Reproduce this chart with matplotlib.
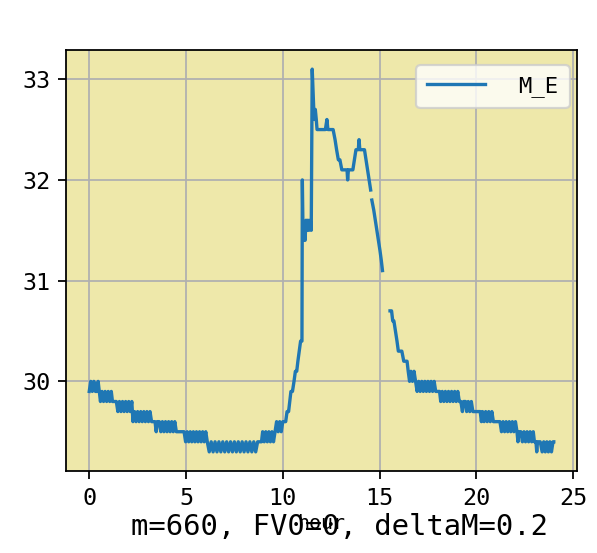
import numpy as np
import matplotlib
matplotlib.use("Agg")
import matplotlib.pyplot as plt
from matplotlib import font_manager

names = {f.name for f in font_manager.fontManager.ttflist}
fam = [n for n in ["Noto Sans Mono CJK SC", "DejaVu Sans Mono"] if n in names]
plt.rcParams['font.family'] = fam + ['DejaVu Sans']

# hour of day
hours = [
    0.00, 0.08, 0.16, 0.24, 0.32, 0.40, 0.46, 0.52,
    0.58, 0.66, 0.74, 0.82, 0.90, 0.98, 1.06, 1.14, 1.20, 1.30, 1.40,
    1.48, 1.56, 1.64, 1.72, 1.80, 1.88, 1.96, 2.04, 2.12, 2.20,
    2.26, 2.34, 2.42, 2.50, 2.58, 2.66, 2.74, 2.82, 2.90, 2.98, 3.06, 3.14, 3.22, 3.30,
    3.40, 3.46, 3.52, 3.62,
    3.70, 3.78, 3.86, 3.94, 4.02, 4.10, 4.18, 4.26, 4.34, 4.42, 4.50,
    4.60, 4.70, 4.80, 4.90,
    4.98, 5.06, 5.14, 5.22, 5.30, 5.38, 5.46, 5.54, 5.62, 5.70, 5.78, 5.86, 5.94, 6.02, 6.10,
    6.20, 6.30, 6.40, 6.50, 6.60, 6.70, 6.80, 6.90, 7.00, 7.10, 7.20, 7.30, 7.40,
    7.50, 7.60, 7.70, 7.80, 7.90, 8.00, 8.10, 8.20, 8.30, 8.40, 8.50, 8.60,
    8.70, 8.80, 8.90,
    8.96, 9.04, 9.12, 9.20, 9.28, 9.36, 9.44, 9.52, 9.60,
    9.68, 9.76, 9.84, 9.92, 10.00, 10.08,
    10.15, 10.22, 10.30, 10.36, 10.42, 10.50, 10.58, 10.65, 10.72, 10.78, 10.85, 10.92, 10.99,
    11.01, 11.05, 11.10, 11.15, 11.20, 11.25, 11.30, 11.35, 11.42, 11.47,
    11.52, 11.56, 11.60, 11.64, 11.68, 11.73, 11.77, 11.90,
    12.00, 12.10, 12.20, 12.28, 12.33, 12.45, 12.60, 12.70, 12.78, 12.87,
    12.95, 13.05, 13.13, 13.25, 13.32, 13.35, 13.39, 13.50, 13.62, 13.70,
    13.78, 13.86, 13.90, 13.94, 13.98, 14.10, 14.22, 14.30, 14.38, 14.46, 14.54,
    14.57,
    14.60, 14.70, 14.78, 14.86, 14.94, 15.02, 15.09, 15.15,
    15.30,
    15.54, 15.62, 15.68, 15.74, 15.82, 15.90, 15.97, 16.05, 16.15, 16.25,
    16.32, 16.42, 16.48, 16.55, 16.62, 16.70, 16.78, 16.86,
    16.94, 17.02, 17.10, 17.18, 17.26, 17.34, 17.42, 17.50, 17.58, 17.66, 17.74, 17.82, 17.90,
    18.00, 18.10,
    18.16, 18.24, 18.32, 18.40, 18.48, 18.56, 18.64, 18.72, 18.80, 18.88, 18.96, 19.04, 19.12,
    19.20, 19.28, 19.34, 19.44,
    19.50, 19.58, 19.66, 19.74, 19.82,
    19.90, 20.00, 20.10, 20.20, 20.26, 20.32,
    20.40, 20.48, 20.56, 20.64, 20.72, 20.80, 20.88,
    20.96, 21.10, 21.22,
    21.30, 21.38, 21.46, 21.54, 21.62, 21.70, 21.78, 21.86, 21.94, 22.02, 22.10,
    22.15, 22.20, 22.30,
    22.38, 22.46, 22.54, 22.62, 22.70, 22.78, 22.86, 22.94,
    23.00, 23.08, 23.12, 23.16, 23.30,
    23.40, 23.48, 23.56, 23.64, 23.72, 23.80, 23.88, 23.96, 24.00,
]

m_e = [
    29.9, 30.0, 29.9, 30.0, 29.9, 29.9, 30.0, 29.9,
    29.8, 29.9, 29.8, 29.9, 29.8, 29.9, 29.8, 29.9, 29.8, 29.8, 29.8,
    29.7, 29.8, 29.7, 29.8, 29.7, 29.8, 29.7, 29.8, 29.7, 29.8,
    29.6, 29.7, 29.6, 29.7, 29.6, 29.7, 29.6, 29.7, 29.6, 29.7, 29.6, 29.7, 29.6, 29.6,
    29.6, 29.5, 29.6, 29.6,
    29.5, 29.6, 29.5, 29.6, 29.5, 29.6, 29.5, 29.6, 29.5, 29.6, 29.5,
    29.5, 29.5, 29.5, 29.5,
    29.4, 29.5, 29.4, 29.5, 29.4, 29.5, 29.4, 29.5, 29.4, 29.5, 29.4, 29.5, 29.4, 29.5, 29.4,
    29.3, 29.4, 29.3, 29.4, 29.3, 29.4, 29.3, 29.4, 29.3, 29.4, 29.3, 29.4, 29.3,
    29.4, 29.3, 29.4, 29.3, 29.4, 29.3, 29.4, 29.3, 29.4, 29.3, 29.4, 29.3,
    29.4, 29.4, 29.4,
    29.5, 29.4, 29.5, 29.4, 29.5, 29.4, 29.5, 29.4, 29.5,
    29.6, 29.5, 29.6, 29.5, 29.6, 29.6,
    29.6, 29.7, 29.7, 29.8, 29.9, 29.9, 30.0, 30.1, 30.1, 30.2, 30.3, 30.4, 30.4,
    32.0, 31.4, 31.5, 31.4, 31.6, 31.5, 31.6, 31.5, 31.6, 31.5,
    33.1, 32.9, 32.7, 32.6, 32.7, 32.6, 32.5, 32.5,
    32.5, 32.5, 32.5, 32.6, 32.5, 32.5, 32.5, 32.4, 32.3, 32.2,
    32.2, 32.1, 32.1, 32.1, 32.1, 32.0, 32.1, 32.1, 32.1, 32.2,
    32.3, 32.3, 32.3, 32.4, 32.3, 32.3, 32.3, 32.2, 32.1, 32.0, 31.9,
    np.nan,
    31.8, 31.7, 31.6, 31.5, 31.4, 31.3, 31.2, 31.1,
    np.nan,
    30.7, 30.7, 30.6, 30.6, 30.5, 30.4, 30.3, 30.3, 30.3, 30.2,
    30.2, 30.2, 30.1, 30.0, 30.1, 30.0, 30.1, 30.0,
    29.9, 30.0, 29.9, 30.0, 29.9, 30.0, 29.9, 30.0, 29.9, 30.0, 29.9, 30.0, 29.9,
    29.9, 29.9,
    29.8, 29.9, 29.8, 29.9, 29.8, 29.9, 29.8, 29.9, 29.8, 29.9, 29.8, 29.9, 29.8,
    29.8, 29.7, 29.8, 29.8,
    29.7, 29.8, 29.7, 29.8, 29.7,
    29.7, 29.7, 29.7, 29.7, 29.6, 29.7,
    29.6, 29.7, 29.6, 29.7, 29.6, 29.7, 29.6,
    29.6, 29.6, 29.6,
    29.5, 29.6, 29.5, 29.6, 29.5, 29.6, 29.5, 29.6, 29.5, 29.6, 29.5,
    29.4, 29.5, 29.5,
    29.4, 29.5, 29.4, 29.5, 29.4, 29.5, 29.4, 29.5,
    29.4, 29.4, 29.3, 29.4, 29.4,
    29.3, 29.4, 29.3, 29.4, 29.3, 29.4, 29.3, 29.4, 29.4,
]

series_label = "M_E"
note = "m=660, FV0=0, deltaM=0.2"

dpi = 160
fig = plt.figure(figsize=(597 / dpi, 553 / dpi), dpi=dpi)
ax = fig.add_axes([66 / 597, 82 / 553, 511 / 597, 421 / 553])
ax.set_facecolor("#EEE8AA")
ax.plot(hours, m_e, color="#1f77b4", lw=1.5, label=series_label)
ax.grid(True)
ax.set_axisbelow(True)
ax.set_xticks([0, 5, 10, 15, 20, 25])
ax.set_yticks([30, 31, 32, 33])
ax.tick_params(labelsize=10.5)
ax.set_xlabel("hour", fontsize=9, labelpad=2)
ax.legend(loc="upper right", bbox_to_anchor=(0.986, 0.964), borderaxespad=0,
          handlelength=2.6, handletextpad=1.5, borderpad=0.5)
fig.text(0.568, 0.047, note, ha="center", va="center", fontsize=13)
fig.savefig("out.png", dpi=dpi)
